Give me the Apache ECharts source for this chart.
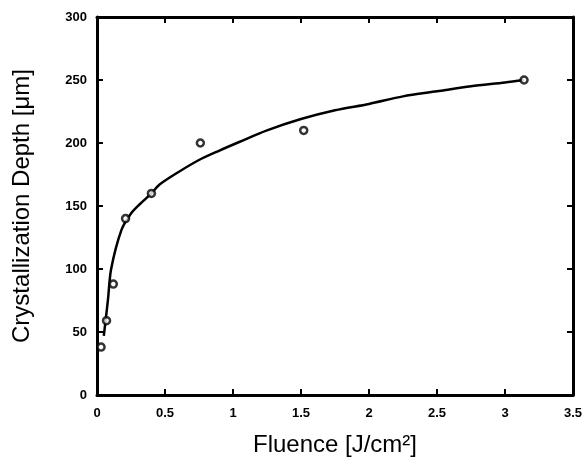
<!DOCTYPE html>
<html>
<head>
<meta charset="utf-8">
<script src="https://cdn.jsdelivr.net/npm/echarts@6/dist/echarts.min.js"></script>
<style>
html, body { margin: 0; padding: 0; background: #fff; }
#chart { width: 587px; height: 463px; }
</style>
</head>
<body>
<div id="chart"></div>
<script>
// measured points
var fluence = [0.03, 0.07, 0.12, 0.21, 0.4, 0.76, 1.52, 3.14];
var depth = [38, 59, 88, 140, 160, 200, 210, 250];
// fitted curve
var fitFluence = [0.05, 0.08, 0.104, 0.18, 0.25, 0.31, 0.4, 0.46, 0.6, 0.75, 0.9, 1.05, 1.25, 1.5, 1.75, 2.0, 2.25, 2.5, 2.75, 3.0, 3.14];
var fitDepth = [47, 75, 100, 131, 144, 151, 160, 167, 177, 186.5, 194, 201, 210, 219, 226, 231, 237, 241, 245, 248, 250];

var font = "'Liberation Sans Narrow', 'Liberation Sans', Arial, sans-serif";
var tickLabel = { color: '#000', fontSize: 13, fontWeight: 'bold', fontFamily: font };
var axisLine = { show: true, onZero: false, lineStyle: { color: '#000', width: 3 } };
var axisTick = { show: true, inside: true, length: 6, lineStyle: { color: '#000', width: 2 } };

var chart = echarts.init(document.getElementById('chart'));
chart.setOption({
	backgroundColor: '#fff',
	animation: false,
	grid: { left: 97, right: 14, top: 17, bottom: 68 },
	xAxis: [{
		type: 'value', min: 0, max: 3.5, interval: 0.5,
		axisLine: axisLine, axisTick: axisTick, splitLine: { show: false },
		axisLabel: Object.assign({ margin: 12 }, tickLabel),
		name: 'Fluence [J/cm²]', nameLocation: 'middle', nameGap: 38,
		nameTextStyle: { color: '#000', fontSize: 24, fontFamily: font }
	}, {
		type: 'value', position: 'top', min: 0, max: 3.5, interval: 0.5,
		axisLine: axisLine, axisTick: axisTick, axisLabel: { show: false }, splitLine: { show: false }
	}],
	yAxis: [{
		type: 'value', min: 0, max: 300, interval: 50,
		axisLine: axisLine, axisTick: axisTick, splitLine: { show: false },
		axisLabel: Object.assign({ margin: 10 }, tickLabel),
		name: 'Crystallization Depth [μm]', nameLocation: 'middle', nameGap: 63,
		nameTextStyle: { color: '#000', fontSize: 24, fontFamily: font }
	}, {
		type: 'value', position: 'right', min: 0, max: 300, interval: 50,
		axisLine: axisLine, axisTick: axisTick, axisLabel: { show: false }, splitLine: { show: false }
	}],
	series: [{
		type: 'line',
		data: fitFluence.map(function (x, i) { return [x, fitDepth[i]]; }),
		smooth: 0.3,
		showSymbol: false,
		lineStyle: { color: '#000', width: 2.5 },
		z: 2
	}, {
		type: 'scatter',
		data: fluence.map(function (x, i) { return [x, depth[i]]; }),
		symbol: 'circle',
		symbolSize: 7,
		itemStyle: { color: '#fff', borderColor: '#000', borderWidth: 2.5 },
		z: 3
	}]
});
</script>
</body>
</html>
